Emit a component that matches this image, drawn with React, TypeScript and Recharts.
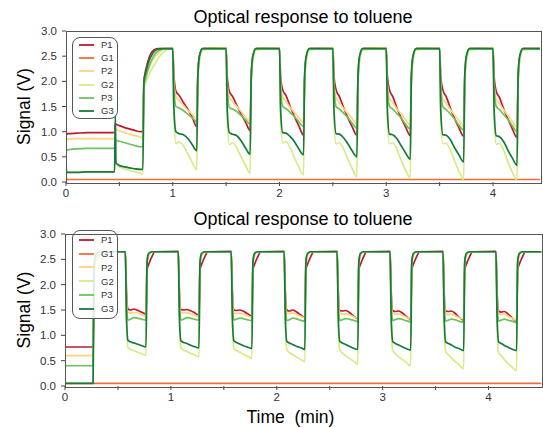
import React from 'react';
import { LineChart, Line, XAxis, YAxis, Legend } from 'recharts';

// ---------- top panel ----------
const topTime = [
  0, 0.005, 0.02, 0.1, 0.2, 0.3, 0.4, 0.455,
  0.462, 0.468, 0.5, 0.55, 0.6, 0.65, 0.7, 0.72,
  0.73, 0.75, 0.78, 0.82, 0.86, 0.9, 0.95,
  1.0, 1.01, 1.03, 1.06, 1.1, 1.14, 1.18, 1.225, 1.235, 1.25, 1.28,
  1.5, 1.51, 1.53, 1.56, 1.6, 1.64, 1.68, 1.725, 1.735, 1.75, 1.78,
  2.0, 2.01, 2.03, 2.06, 2.1, 2.14, 2.18, 2.225, 2.235, 2.25, 2.28,
  2.5, 2.51, 2.53, 2.56, 2.6, 2.64, 2.68, 2.725, 2.735, 2.75, 2.78,
  3.0, 3.01, 3.03, 3.06, 3.1, 3.14, 3.18, 3.225, 3.235, 3.25, 3.28,
  3.5, 3.51, 3.53, 3.56, 3.6, 3.64, 3.68, 3.725, 3.735, 3.75, 3.78,
  4.0, 4.01, 4.03, 4.06, 4.1, 4.14, 4.18, 4.225, 4.235, 4.25, 4.28,
  4.44,
];
const topP1 = [
  1.1, 0.95, 0.96, 0.97, 0.98, 0.98, 0.98, 0.98,
  1.16, 1.15, 1.12, 1.08, 1.05, 1.02, 1.0, 1.0,
  2.0, 2.25, 2.48, 2.62, 2.65, 2.65, 2.65,
  2.65, 2.15, 1.8, 1.72, 1.58, 1.45, 1.3, 1.1, 2.1, 2.5, 2.65,
  2.66, 2.1, 1.8, 1.7, 1.52, 1.35, 1.2, 1.02, 2.05, 2.48, 2.65,
  2.66, 2.1, 1.83, 1.72, 1.5, 1.3, 1.12, 0.93, 2.0, 2.45, 2.65,
  2.66, 2.1, 1.83, 1.7, 1.48, 1.28, 1.1, 0.93, 2.0, 2.45, 2.65,
  2.66, 2.1, 1.83, 1.7, 1.47, 1.27, 1.1, 0.92, 2.0, 2.45, 2.65,
  2.66, 2.1, 1.83, 1.7, 1.47, 1.26, 1.08, 0.91, 2.0, 2.45, 2.65,
  2.66, 2.1, 1.8, 1.68, 1.45, 1.25, 1.06, 0.88, 2.0, 2.45, 2.65,
  2.65,
];
const topG1 = [
  0.15, 0.06, 0.05, 0.05, 0.05, 0.05, 0.05, 0.05,
  0.05, 0.05, 0.05, 0.05, 0.05, 0.05, 0.05, 0.05,
  0.05, 0.05, 0.05, 0.05, 0.05, 0.05, 0.05,
  0.05, 0.05, 0.05, 0.05, 0.05, 0.05, 0.05, 0.05, 0.05, 0.05, 0.05,
  0.05, 0.05, 0.05, 0.05, 0.05, 0.05, 0.05, 0.05, 0.05, 0.05, 0.05,
  0.05, 0.05, 0.05, 0.05, 0.05, 0.05, 0.05, 0.05, 0.05, 0.05, 0.05,
  0.05, 0.05, 0.05, 0.05, 0.05, 0.05, 0.05, 0.05, 0.05, 0.05, 0.05,
  0.05, 0.05, 0.05, 0.05, 0.05, 0.05, 0.05, 0.05, 0.05, 0.05, 0.05,
  0.05, 0.05, 0.05, 0.05, 0.05, 0.05, 0.05, 0.05, 0.05, 0.05, 0.05,
  0.05, 0.05, 0.05, 0.05, 0.05, 0.05, 0.05, 0.05, 0.05, 0.05, 0.05,
  0.05,
];
const topP2 = [
  0.9, 0.84, 0.85, 0.86, 0.86, 0.86, 0.86, 0.86,
  1.05, 1.05, 1.02, 0.98, 0.95, 0.92, 0.89, 0.87,
  1.95, 2.1, 2.3, 2.45, 2.55, 2.62, 2.65,
  2.65, 2.0, 1.7, 1.62, 1.52, 1.43, 1.35, 1.25, 2.05, 2.45, 2.65,
  2.65, 1.95, 1.68, 1.6, 1.5, 1.4, 1.3, 1.2, 2.05, 2.45, 2.65,
  2.65, 1.95, 1.68, 1.6, 1.48, 1.38, 1.28, 1.18, 2.05, 2.45, 2.65,
  2.65, 1.95, 1.66, 1.58, 1.46, 1.36, 1.26, 1.15, 2.05, 2.45, 2.65,
  2.65, 1.95, 1.66, 1.58, 1.45, 1.35, 1.24, 1.13, 2.05, 2.45, 2.65,
  2.65, 1.95, 1.65, 1.57, 1.44, 1.33, 1.22, 1.1, 2.05, 2.45, 2.65,
  2.65, 1.95, 1.64, 1.56, 1.43, 1.32, 1.2, 1.08, 2.05, 2.45, 2.65,
  2.65,
];
const topG2 = [
  0.4, 0.2, 0.19, 0.19, 0.2, 0.2, 0.2, 0.2,
  0.5, 0.36, 0.3, 0.26, 0.23, 0.2, 0.17, 0.16,
  1.85, 2.0, 2.15, 2.3, 2.45, 2.55, 2.64,
  2.67, 1.3, 0.76, 0.8, 0.72, 0.56, 0.4, 0.24, 1.95, 2.4, 2.62,
  2.67, 1.25, 0.74, 0.78, 0.68, 0.5, 0.34, 0.17, 1.95, 2.4, 2.62,
  2.67, 1.25, 0.78, 0.8, 0.68, 0.48, 0.3, 0.14, 1.95, 2.4, 2.62,
  2.67, 1.25, 0.76, 0.78, 0.66, 0.45, 0.27, 0.1, 1.95, 2.4, 2.62,
  2.67, 1.25, 0.76, 0.78, 0.65, 0.43, 0.24, 0.07, 1.95, 2.4, 2.62,
  2.67, 1.25, 0.76, 0.77, 0.64, 0.42, 0.22, 0.05, 1.95, 2.4, 2.62,
  2.67, 1.25, 0.75, 0.77, 0.63, 0.4, 0.2, 0.04, 1.95, 2.4, 2.62,
  2.65,
];
const topP3 = [
  0.7, 0.63, 0.64, 0.66, 0.67, 0.67, 0.67, 0.67,
  0.84, 0.83, 0.81, 0.78, 0.75, 0.72, 0.7, 0.7,
  1.9, 2.1, 2.3, 2.5, 2.6, 2.64, 2.65,
  2.65, 1.9, 1.5, 1.47, 1.42, 1.35, 1.28, 1.2, 2.1, 2.5, 2.65,
  2.65, 1.9, 1.48, 1.45, 1.4, 1.32, 1.24, 1.15, 2.1, 2.5, 2.65,
  2.65, 1.9, 1.5, 1.46, 1.38, 1.3, 1.2, 1.1, 2.1, 2.5, 2.65,
  2.65, 1.9, 1.5, 1.45, 1.37, 1.28, 1.17, 1.07, 2.1, 2.5, 2.65,
  2.65, 1.9, 1.5, 1.45, 1.36, 1.27, 1.15, 1.05, 2.1, 2.5, 2.65,
  2.65, 1.9, 1.5, 1.44, 1.35, 1.25, 1.13, 1.03, 2.1, 2.5, 2.65,
  2.65, 1.9, 1.5, 1.44, 1.34, 1.24, 1.12, 1.0, 2.1, 2.5, 2.65,
  2.65,
];
const topG3 = [
  0.42, 0.2, 0.19, 0.19, 0.2, 0.2, 0.2, 0.2,
  1.35, 0.38, 0.33, 0.3, 0.28, 0.26, 0.25, 0.25,
  2.0, 2.2, 2.42, 2.58, 2.64, 2.65, 2.65,
  2.65, 1.5, 1.0, 0.96, 0.94, 0.87, 0.75, 0.62, 2.1, 2.5, 2.65,
  2.65, 1.45, 0.98, 0.95, 0.92, 0.82, 0.68, 0.55, 2.1, 2.5, 2.65,
  2.65, 1.45, 0.98, 0.97, 0.9, 0.8, 0.66, 0.54, 2.1, 2.5, 2.65,
  2.65, 1.45, 0.96, 0.95, 0.88, 0.76, 0.62, 0.5, 2.1, 2.5, 2.65,
  2.65, 1.45, 0.95, 0.94, 0.86, 0.72, 0.58, 0.45, 2.1, 2.5, 2.65,
  2.65, 1.45, 0.94, 0.93, 0.84, 0.68, 0.54, 0.4, 2.1, 2.5, 2.65,
  2.65, 1.45, 0.92, 0.9, 0.8, 0.63, 0.48, 0.33, 2.1, 2.5, 2.65,
  2.65,
];

// ---------- bottom panel ----------
const botTime = [
  0, 0.1, 0.2, 0.265,
  0.275, 0.285, 0.3, 0.35, 0.42, 0.5,
  0.57, 0.58, 0.595, 0.62, 0.65, 0.68, 0.72, 0.765, 0.775, 0.79, 0.82, 0.85,
  1.07, 1.08, 1.095, 1.12, 1.15, 1.18, 1.22, 1.265, 1.275, 1.29, 1.32, 1.35,
  1.57, 1.58, 1.595, 1.62, 1.65, 1.68, 1.72, 1.765, 1.775, 1.79, 1.82, 1.85,
  2.07, 2.08, 2.095, 2.12, 2.15, 2.18, 2.22, 2.265, 2.275, 2.29, 2.32, 2.35,
  2.57, 2.58, 2.595, 2.62, 2.65, 2.68, 2.72, 2.765, 2.775, 2.79, 2.82, 2.85,
  3.07, 3.08, 3.095, 3.12, 3.15, 3.18, 3.22, 3.265, 3.275, 3.29, 3.32, 3.35,
  3.57, 3.58, 3.595, 3.62, 3.65, 3.68, 3.72, 3.765, 3.775, 3.79, 3.82, 3.85,
  4.07, 4.08, 4.095, 4.12, 4.15, 4.18, 4.22, 4.265, 4.275, 4.29, 4.32, 4.35,
  4.5,
];
const botP1 = [
  0.77, 0.77, 0.77, 0.77,
  2.3, 2.45, 2.52, 2.58, 2.63, 2.65,
  2.65, 1.9, 1.52, 1.5, 1.52, 1.5, 1.46, 1.42, 2.3, 2.4, 2.55, 2.65,
  2.66, 1.9, 1.51, 1.5, 1.51, 1.49, 1.45, 1.4, 2.3, 2.4, 2.55, 2.65,
  2.66, 1.9, 1.5, 1.49, 1.5, 1.48, 1.43, 1.38, 2.3, 2.4, 2.55, 2.65,
  2.66, 1.9, 1.5, 1.48, 1.5, 1.47, 1.41, 1.35, 2.3, 2.4, 2.55, 2.65,
  2.66, 1.9, 1.49, 1.48, 1.49, 1.46, 1.39, 1.33, 2.3, 2.4, 2.55, 2.65,
  2.66, 1.9, 1.49, 1.47, 1.48, 1.45, 1.38, 1.32, 2.3, 2.4, 2.55, 2.65,
  2.66, 1.9, 1.48, 1.47, 1.48, 1.44, 1.36, 1.3, 2.3, 2.4, 2.55, 2.65,
  2.66, 1.9, 1.48, 1.46, 1.47, 1.43, 1.35, 1.28, 2.3, 2.4, 2.55, 2.65,
  2.65,
];
const botG1 = [
  0.05, 0.05, 0.05, 0.05,
  0.05, 0.05, 0.05, 0.05, 0.05, 0.05,
  0.05, 0.05, 0.05, 0.05, 0.05, 0.05, 0.05, 0.05, 0.05, 0.05, 0.05, 0.05,
  0.05, 0.05, 0.05, 0.05, 0.05, 0.05, 0.05, 0.05, 0.05, 0.05, 0.05, 0.05,
  0.05, 0.05, 0.05, 0.05, 0.05, 0.05, 0.05, 0.05, 0.05, 0.05, 0.05, 0.05,
  0.05, 0.05, 0.05, 0.05, 0.05, 0.05, 0.05, 0.05, 0.05, 0.05, 0.05, 0.05,
  0.05, 0.05, 0.05, 0.05, 0.05, 0.05, 0.05, 0.05, 0.05, 0.05, 0.05, 0.05,
  0.05, 0.05, 0.05, 0.05, 0.05, 0.05, 0.05, 0.05, 0.05, 0.05, 0.05, 0.05,
  0.05, 0.05, 0.05, 0.05, 0.05, 0.05, 0.05, 0.05, 0.05, 0.05, 0.05, 0.05,
  0.05, 0.05, 0.05, 0.05, 0.05, 0.05, 0.05, 0.05, 0.05, 0.05, 0.05, 0.05,
  0.05,
];
const botP2 = [
  0.6, 0.6, 0.6, 0.6,
  2.25, 2.45, 2.53, 2.58, 2.62, 2.65,
  2.65, 1.8, 1.45, 1.44, 1.45, 1.44, 1.41, 1.38, 2.4, 2.58, 2.65, 2.65,
  2.65, 1.8, 1.45, 1.44, 1.45, 1.43, 1.4, 1.37, 2.4, 2.58, 2.65, 2.65,
  2.65, 1.8, 1.44, 1.43, 1.44, 1.42, 1.39, 1.36, 2.4, 2.58, 2.65, 2.65,
  2.65, 1.8, 1.44, 1.43, 1.44, 1.42, 1.38, 1.35, 2.4, 2.58, 2.65, 2.65,
  2.65, 1.8, 1.44, 1.42, 1.43, 1.41, 1.37, 1.34, 2.4, 2.58, 2.65, 2.65,
  2.65, 1.8, 1.43, 1.42, 1.43, 1.4, 1.36, 1.33, 2.4, 2.58, 2.65, 2.65,
  2.65, 1.8, 1.43, 1.41, 1.42, 1.39, 1.35, 1.32, 2.4, 2.58, 2.65, 2.65,
  2.65, 1.8, 1.43, 1.41, 1.42, 1.38, 1.34, 1.3, 2.4, 2.58, 2.65, 2.65,
  2.65,
];
const botG2 = [
  0.05, 0.05, 0.05, 0.05,
  2.3, 2.5, 2.56, 2.6, 2.63, 2.65,
  2.65, 1.3, 0.76, 0.72, 0.7, 0.67, 0.64, 0.61, 2.4, 2.58, 2.65, 2.65,
  2.65, 1.3, 0.75, 0.71, 0.68, 0.65, 0.62, 0.58, 2.4, 2.58, 2.65, 2.65,
  2.65, 1.3, 0.74, 0.7, 0.67, 0.63, 0.59, 0.55, 2.4, 2.58, 2.65, 2.65,
  2.65, 1.3, 0.72, 0.66, 0.62, 0.58, 0.53, 0.48, 2.4, 2.58, 2.65, 2.65,
  2.65, 1.3, 0.71, 0.65, 0.6, 0.55, 0.5, 0.43, 2.4, 2.58, 2.65, 2.65,
  2.65, 1.3, 0.7, 0.64, 0.58, 0.53, 0.47, 0.4, 2.4, 2.58, 2.65, 2.65,
  2.65, 1.3, 0.68, 0.62, 0.55, 0.49, 0.42, 0.34, 2.4, 2.58, 2.65, 2.65,
  2.65, 1.3, 0.66, 0.6, 0.52, 0.45, 0.38, 0.3, 2.4, 2.58, 2.65, 2.65,
  2.65,
];
const botP3 = [
  0.4, 0.4, 0.4, 0.4,
  2.3, 2.5, 2.56, 2.6, 2.63, 2.65,
  2.65, 1.7, 1.3, 1.32, 1.35, 1.34, 1.32, 1.3, 2.45, 2.6, 2.65, 2.65,
  2.65, 1.7, 1.3, 1.32, 1.35, 1.34, 1.32, 1.3, 2.45, 2.6, 2.65, 2.65,
  2.65, 1.7, 1.3, 1.32, 1.34, 1.33, 1.31, 1.29, 2.45, 2.6, 2.65, 2.65,
  2.65, 1.7, 1.29, 1.31, 1.34, 1.33, 1.3, 1.28, 2.45, 2.6, 2.65, 2.65,
  2.65, 1.7, 1.29, 1.31, 1.33, 1.32, 1.3, 1.27, 2.45, 2.6, 2.65, 2.65,
  2.65, 1.7, 1.29, 1.31, 1.33, 1.32, 1.29, 1.27, 2.45, 2.6, 2.65, 2.65,
  2.65, 1.7, 1.28, 1.3, 1.32, 1.31, 1.28, 1.26, 2.45, 2.6, 2.65, 2.65,
  2.65, 1.7, 1.28, 1.3, 1.32, 1.3, 1.28, 1.25, 2.45, 2.6, 2.65, 2.65,
  2.65,
];
const botG3 = [
  0.05, 0.05, 0.05, 0.05,
  2.4, 2.55, 2.62, 2.65, 2.65, 2.65,
  2.65, 1.4, 0.9, 0.87, 0.85, 0.83, 0.8, 0.77, 2.45, 2.62, 2.65, 2.65,
  2.65, 1.4, 0.89, 0.86, 0.84, 0.81, 0.78, 0.75, 2.45, 2.62, 2.65, 2.65,
  2.65, 1.4, 0.89, 0.86, 0.83, 0.8, 0.77, 0.74, 2.45, 2.62, 2.65, 2.65,
  2.65, 1.4, 0.88, 0.85, 0.82, 0.79, 0.76, 0.72, 2.45, 2.62, 2.65, 2.65,
  2.65, 1.4, 0.88, 0.85, 0.82, 0.79, 0.75, 0.72, 2.45, 2.62, 2.65, 2.65,
  2.65, 1.4, 0.88, 0.84, 0.81, 0.78, 0.74, 0.71, 2.45, 2.62, 2.65, 2.65,
  2.65, 1.4, 0.87, 0.84, 0.81, 0.77, 0.74, 0.7, 2.45, 2.62, 2.65, 2.65,
  2.65, 1.4, 0.87, 0.84, 0.8, 0.77, 0.73, 0.7, 2.45, 2.62, 2.65, 2.65,
  2.65,
];

const seriesNames = ['P1', 'G1', 'P2', 'G2', 'P3', 'G3'];
const seriesColors = ['#c0182f', '#f26b3a', '#fdd47e', '#d6ec84', '#6cc25f', '#167a3a'];
const yTicks = [0, 0.5, 1, 1.5, 2, 2.5, 3];
const xTicks = [0, 0.5, 1, 1.5, 2, 2.5, 3, 3.5, 4];

const FONT = '"Liberation Sans", Arial, Helvetica, sans-serif';

const buildRows = (time: number[], cols: number[][]) =>
  time.map((t, i) => {
    const row: Record<string, number> = { t };
    seriesNames.forEach((n, k) => (row[n] = cols[k][i]));
    return row;
  });

const topRows = buildRows(topTime, [topP1, topG1, topP2, topG2, topP3, topG3]);
const botRows = buildRows(botTime, [botP1, botG1, botP2, botG2, botP3, botG3]);

// legend keeps the plotting order (P1, G1, P2, G2, P3, G3)
const makeLegend = (rowH: number, padY: number) => (props: any) => {
  const payload = [...(props.payload || [])].sort(
    (a: any, b: any) => seriesNames.indexOf(a.value) - seriesNames.indexOf(b.value)
  );
  return (
    <div
      style={{
        width: 44,
        border: '1px solid #555',
        borderRadius: 8,
        background: 'rgba(255,255,255,0.85)',
        padding: `${padY}px 0`,
        fontFamily: FONT,
        fontSize: 9.5,
        color: '#333',
      }}
    >
      {payload.map((p: any) => (
        <div key={p.value} style={{ display: 'flex', alignItems: 'center', height: rowH }}>
          <svg width={15} height={4} style={{ marginLeft: 6, marginRight: 7 }}>
            <line x1={0} y1={2} x2={15} y2={2} stroke={p.color} strokeWidth={1.8} />
          </svg>
          <span style={{ lineHeight: 1 }}>{p.value}</span>
        </div>
      ))}
    </div>
  );
};

interface PanelProps {
  rows: Record<string, number>[];
  height: number;
  marginTop: number;
  marginRight: number;
  yWidth: number;
  xHeight: number;
  xMax: number;
  legendTop: number;
  rowH: number;
  padY: number;
}

function Panel({ rows, height, marginTop, marginRight, yWidth, xHeight, xMax, legendTop, rowH, padY }: PanelProps) {
  const plotW = 543 - marginRight - yWidth;
  const plotH = height - marginTop - xHeight;
  return (
    <div style={{ position: 'relative', width: 543, height }}>
      <LineChart width={543} height={height} data={rows} margin={{ top: marginTop, right: marginRight, bottom: 0, left: 0 }}>
        <XAxis
          dataKey="t"
          type="number"
          domain={[0, xMax]}
          ticks={xTicks}
          interval={0}
          allowDataOverflow
          height={xHeight}
          axisLine={false}
          tickSize={4}
          tickMargin={3}
          tickLine={{ stroke: '#444' }}
          tick={{ fill: '#333', fontSize: 11.5, fontFamily: FONT }}
          tickFormatter={(v: number) => (Number.isInteger(v) ? String(v) : '')}
        />
        <YAxis
          type="number"
          domain={[0, 3]}
          ticks={yTicks}
          interval={0}
          width={yWidth}
          axisLine={false}
          tickSize={4}
          tickMargin={5}
          tickLine={{ stroke: '#444' }}
          tick={{ fill: '#333', fontSize: 11.5, fontFamily: FONT }}
          tickFormatter={(v: number) => v.toFixed(1)}
        />
        {seriesNames.map((n, k) => (
          <Line
            key={n}
            type="monotone"
            dataKey={n}
            name={n}
            stroke={seriesColors[k]}
            strokeWidth={1.7}
            dot={false}
            isAnimationActive={false}
          />
        ))}
        <Legend
          layout="vertical"
          align="center"
          verticalAlign="middle"
          content={makeLegend(rowH, padY)}
          wrapperStyle={{ left: 72, top: legendTop, width: 'auto', height: 'auto' }}
        />
      </LineChart>
      <div
        style={{
          position: 'absolute',
          left: yWidth - 0.5,
          top: marginTop - 0.5,
          width: plotW,
          height: plotH,
          border: '1px solid #555',
          pointerEvents: 'none',
        }}
      />
    </div>
  );
}

export default function App() {
  return (
    <div style={{ position: 'absolute', left: 0, top: 0, width: 543, height: 428, background: '#fff', fontFamily: FONT }}>
      <div style={{ position: 'absolute', left: 0, top: 0 }}>
        <Panel rows={topRows} height={200} marginTop={31} marginRight={3} yWidth={66} xHeight={18} xMax={4.44} legendTop={37} rowH={13.3} padY={0} />
      </div>
      <div style={{ position: 'absolute', left: 0, top: 200 }}>
        <Panel rows={botRows} height={206} marginTop={34} marginRight={1.5} yWidth={65} xHeight={20} xMax={4.5} legendTop={30} rowH={13.8} padY={2} />
      </div>
      <svg width={543} height={428} style={{ position: 'absolute', left: 0, top: 0, pointerEvents: 'none' }}>
        <g fontFamily={FONT} fill="#000">
          <text x={303} y={23} fontSize={18} textAnchor="middle">Optical response to toluene</text>
          <text x={303} y={225} fontSize={18} textAnchor="middle">Optical response to toluene</text>
          <text transform="translate(30,106.5) rotate(-90)" fontSize={17.5} textAnchor="middle">Signal (V)</text>
          <text transform="translate(30,310) rotate(-90)" fontSize={17.5} textAnchor="middle">Signal (V)</text>
          <text x={290.5} y={423} fontSize={17.5} textAnchor="middle" style={{ whiteSpace: 'pre' }}>Time  (min)</text>
        </g>
      </svg>
    </div>
  );
}
